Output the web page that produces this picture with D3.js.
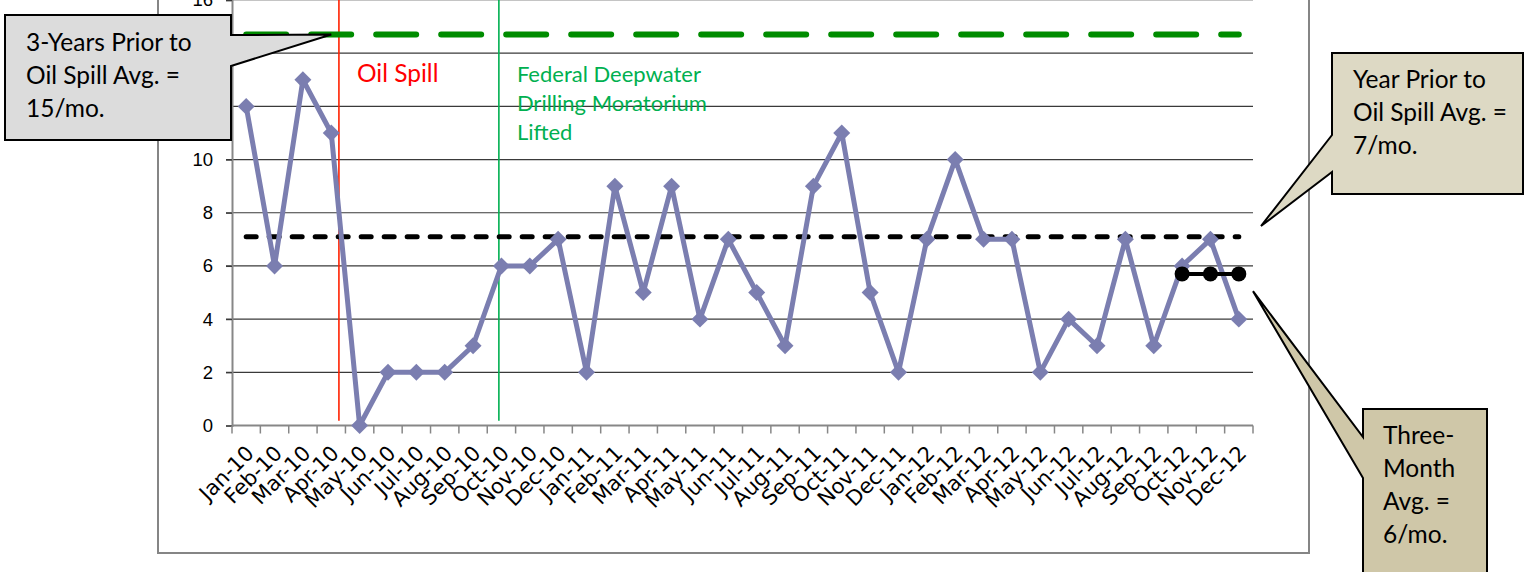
<!DOCTYPE html>
<html>
<head>
<meta charset="utf-8">
<script src="https://cdn.jsdelivr.net/npm/d3@7"></script>
<style>
  body { margin: 0; background: #fff; }
  svg { display: block; }
</style>
</head>
<body>
<div id="chart"></div>
<script>
/////////////////////////Data////////////////////////////

let months = ["Jan-10","Feb-10","Mar-10","Apr-10","May-10","Jun-10","Jul-10","Aug-10","Sep-10","Oct-10","Nov-10","Dec-10",
  "Jan-11","Feb-11","Mar-11","Apr-11","May-11","Jun-11","Jul-11","Aug-11","Sep-11","Oct-11","Nov-11","Dec-11",
  "Jan-12","Feb-12","Mar-12","Apr-12","May-12","Jun-12","Jul-12","Aug-12","Sep-12","Oct-12","Nov-12","Dec-12"];

let counts = [12, 6, 13, 11, 0, 2, 2, 2, 3, 6, 6, 7,
  2, 9, 5, 9, 4, 7, 5, 3, 9, 11, 5, 2,
  7, 10, 7, 7, 2, 4, 3, 7, 3, 6, 7, 4];

let yTicks = [0, 2, 4, 6, 8, 10, 12, 14, 16];

// reference averages
let threeYearAvg = 14.7;
let yearPriorAvg = 7.1;
let threeMonthMonths = ["Oct-12", "Nov-12", "Dec-12"];
let threeMonthAvg = 5.7;

// event markers, position in month units from Jan-10
let events = [
  { lines: ["Oil Spill"], at: 3.77, color: "#ff2000", text: "#ff0000", size: 24.5 },
  { lines: ["Federal Deepwater", "Drilling Moratorium", "Lifted"], at: 9.41, color: "#00b050", text: "#00b050", size: 22 }
];

/////////////////////////Set Up Chart////////////////////////////

let svgWidth = 1525;
let svgHeight = 572;

let plot = { left: 232, right: 1253, top: 0, bottom: 425.5 };

let svg = d3.select("#chart")
  .append("svg")
  .attr("width", svgWidth)
  .attr("height", svgHeight);

svg.append("rect")
  .attr("width", svgWidth)
  .attr("height", svgHeight)
  .attr("fill", "#fff");

// chart area border
svg.append("rect")
  .attr("x", 158)
  .attr("y", -10)
  .attr("width", 1151)
  .attr("height", 563)
  .attr("fill", "none")
  .attr("stroke", "#858585")
  .attr("stroke-width", 2);

let x = d3.scaleBand()
  .domain(months)
  .range([plot.left, plot.right]);

let xPos = d3.scaleLinear()
  .domain([0, months.length])
  .range([plot.left, plot.right]);

let y = d3.scaleLinear()
  .domain([0, 16])
  .range([plot.bottom, plot.top]);

let cx = d => x(d) + x.bandwidth() / 2;

// gridlines
svg.append("g")
  .selectAll("line")
  .data(yTicks.filter(t => t > 0))
  .enter()
  .append("line")
  .attr("x1", plot.left - 6)
  .attr("x2", plot.right)
  .attr("y1", d => y(d))
  .attr("y2", d => y(d))
  .attr("stroke", d => d === 16 ? "#8a8a8a" : "#3a3a3a")
  .attr("stroke-width", 1.2);

// y axis
let yAxis = svg.append("g")
  .attr("transform", `translate(${plot.left}, 0)`)
  .call(d3.axisLeft(y).tickValues(yTicks).tickSize(6).tickPadding(13));
yAxis.select(".domain").attr("stroke", "#878787").attr("stroke-width", 2);
yAxis.selectAll(".tick line").attr("stroke", "#3a3a3a").attr("stroke-width", 1.2);
yAxis.selectAll("text")
  .attr("font-family", "Liberation Sans, Arial, sans-serif")
  .attr("font-size", 18.5)
  .attr("fill", "#000");

// x axis: ticks between categories
let xAxis = svg.append("g")
  .attr("transform", `translate(0, ${plot.bottom})`);
xAxis.append("line")
  .attr("x1", plot.left)
  .attr("x2", plot.right)
  .attr("stroke", "#878787")
  .attr("stroke-width", 2);
xAxis.selectAll(".tick")
  .data(d3.range(months.length + 1))
  .enter()
  .append("line")
  .attr("x1", d => xPos(d))
  .attr("x2", d => xPos(d))
  .attr("y1", 0)
  .attr("y2", 8)
  .attr("stroke", "#878787")
  .attr("stroke-width", 1.5);
xAxis.selectAll("text")
  .data(months)
  .enter()
  .append("text")
  .attr("transform", d => `translate(${cx(d) + 9}, 29) rotate(-45)`)
  .attr("text-anchor", "end")
  .attr("font-family", "DejaVu Sans, Verdana, sans-serif")
  .attr("font-size", 21)
  .attr("fill", "#000")
  .text(d => d);

// event lines and labels
events.forEach(ev => {
  svg.append("line")
    .attr("x1", xPos(ev.at))
    .attr("x2", xPos(ev.at))
    .attr("y1", y(16.5))
    .attr("y2", y(0.18))
    .attr("stroke", ev.color)
    .attr("stroke-width", 1.6);
  let t = svg.append("text")
    .attr("font-family", "Lato, sans-serif")
    .attr("font-size", ev.size)
    .attr("fill", ev.text);
  t.selectAll("tspan")
    .data(ev.lines)
    .enter()
    .append("tspan")
    .attr("x", xPos(ev.at) + 18)
    .attr("y", (d, i) => 82 + i * 28.8)
    .text(d => d);
});

// average lines
let dashLine = d3.line().x(d => cx(d[0])).y(d => y(d[1]));

svg.append("path")
  .attr("d", dashLine([[months[0], threeYearAvg], [months[months.length - 1], threeYearAvg]]))
  .attr("stroke", "#008c00")
  .attr("stroke-width", 6)
  .attr("stroke-linecap", "round")
  .attr("stroke-dasharray", "40 25")
  .attr("fill", "none");

svg.append("path")
  .attr("d", dashLine([[months[0], yearPriorAvg], [months[months.length - 1], yearPriorAvg]]))
  .attr("stroke", "#000")
  .attr("stroke-width", 5)
  .attr("stroke-linecap", "round")
  .attr("stroke-dasharray", "10 13")
  .attr("fill", "none");

// monthly series
let seriesColor = "#7b7eb0";
let lineGen = d3.line()
  .x((d, i) => cx(months[i]))
  .y(d => y(d));

svg.append("path")
  .datum(counts)
  .attr("d", lineGen)
  .attr("fill", "none")
  .attr("stroke", seriesColor)
  .attr("stroke-width", 5)
  .attr("stroke-linejoin", "round");

svg.append("g")
  .selectAll("rect")
  .data(counts)
  .enter()
  .append("rect")
  .attr("x", -6)
  .attr("y", -6)
  .attr("width", 12)
  .attr("height", 12)
  .attr("fill", seriesColor)
  .attr("transform", (d, i) => `translate(${cx(months[i])}, ${y(d)}) rotate(45)`);

// three-month average
svg.append("path")
  .attr("d", dashLine(threeMonthMonths.map(m => [m, threeMonthAvg])))
  .attr("stroke", "#000")
  .attr("stroke-width", 4)
  .attr("fill", "none");
svg.append("g")
  .selectAll("circle")
  .data(threeMonthMonths)
  .enter()
  .append("circle")
  .attr("cx", d => cx(d))
  .attr("cy", y(threeMonthAvg))
  .attr("r", 7.5)
  .attr("fill", "#000");

/////////////////////////Callouts////////////////////////////

function callout(box, tip, wedge, fill, lines, textX, textY, lineH) {
  let p = d3.path();
  p.moveTo(box.x0, box.y0);
  if (wedge.side === "right") {
    p.lineTo(box.x1, box.y0);
    p.lineTo(box.x1, wedge.a);
    p.lineTo(tip[0], tip[1]);
    p.lineTo(box.x1, wedge.b);
    p.lineTo(box.x1, box.y1);
    p.lineTo(box.x0, box.y1);
  } else {
    p.lineTo(box.x1, box.y0);
    p.lineTo(box.x1, box.y1);
    p.lineTo(box.x0, box.y1);
    p.lineTo(box.x0, wedge.b);
    p.lineTo(tip[0], tip[1]);
    p.lineTo(box.x0, wedge.a);
  }
  p.closePath();
  svg.append("path")
    .attr("d", p.toString())
    .attr("fill", fill)
    .attr("stroke", "#000")
    .attr("stroke-width", 2)
    .attr("stroke-linejoin", "miter");
  svg.append("text")
    .attr("font-family", "Lato, sans-serif")
    .attr("font-size", 24.5)
    .attr("fill", "#000")
    .selectAll("tspan")
    .data(lines)
    .enter()
    .append("tspan")
    .attr("x", textX)
    .attr("y", (d, i) => textY + i * lineH)
    .text(d => d);
}

callout({ x0: 5, y0: 15, x1: 231, y1: 140 }, [cx("Apr-10"), y(threeYearAvg)],
  { side: "right", a: 35, b: 66 }, "#dcdcdc",
  ["3-Years Prior to", "Oil Spill Avg. =", "15/mo."], 26, 51, 33);

callout({ x0: 1332, y0: 53, x1: 1523, y1: 194 }, [plot.right + 8, y(7.5)],
  { side: "left", a: 135, b: 172 }, "#ddd9c4",
  ["Year Prior to", "Oil Spill Avg. =", "7/mo."], 1353, 88, 33);

callout({ x0: 1363, y0: 409, x1: 1487, y1: 590 }, [plot.right, y(5.05)],
  { side: "left", a: 437, b: 478 }, "#cfc7a8",
  ["Three-", "Month", "Avg. =", "6/mo."], 1383, 444, 33);
</script>
</body>
</html>
